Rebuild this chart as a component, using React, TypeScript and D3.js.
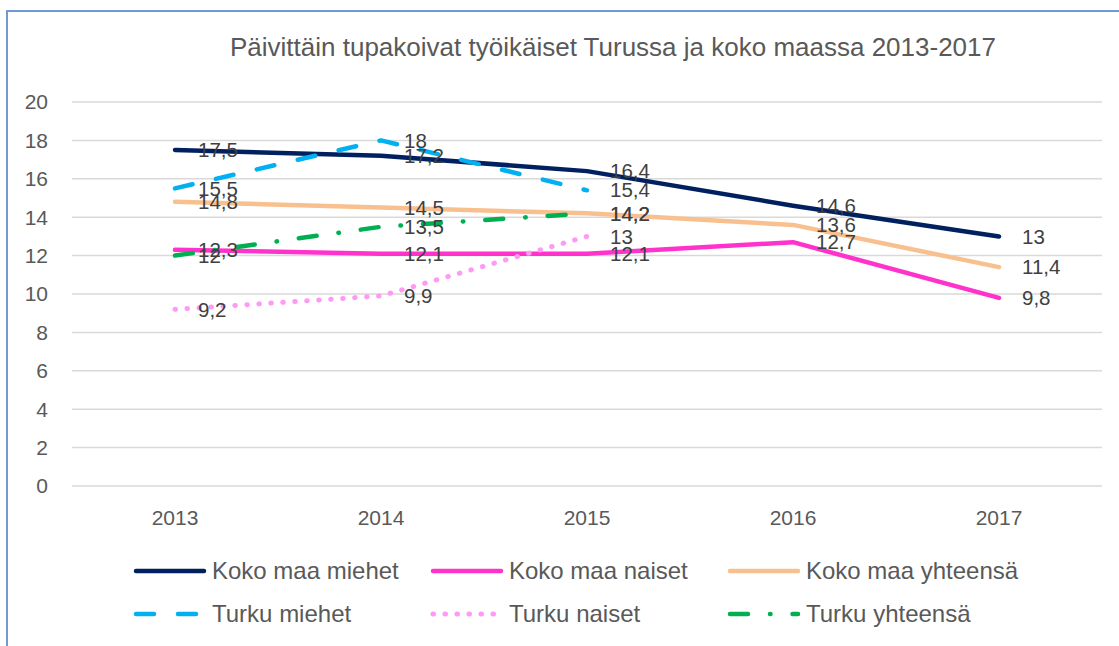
import React, { useEffect } from "react";
import * as d3 from "d3";

const years = ["2013", "2014", "2015", "2016", "2017"];
const yTicks = [0, 2, 4, 6, 8, 10, 12, 14, 16, 18, 20];

const kokoMaaMiehet = [17.5, 17.2, 16.4, 14.6, 13];
const kokoMaaNaiset = [12.3, 12.1, 12.1, 12.7, 9.8];
const kokoMaaYhteensa = [14.8, 14.5, 14.2, 13.6, 11.4];
const turkuMiehet = [15.5, 18, 15.4];
const turkuNaiset = [9.2, 9.9, 13];
const turkuYhteensa = [12, 13.5, 14.2];

const seriesNames = [
  "Koko maa miehet",
  "Koko maa naiset",
  "Koko maa yhteensä",
  "Turku miehet",
  "Turku naiset",
  "Turku yhteensä",
];

const title = "Päivittäin tupakoivat työikäiset Turussa ja koko maassa 2013-2017";

type Series = { name: string; values: number[]; color: string; dash?: string; width: number };

const series: Series[] = [
  { name: seriesNames[0], values: kokoMaaMiehet, color: "#002060", width: 4.5 },
  { name: seriesNames[1], values: kokoMaaNaiset, color: "#FF33CC", width: 4.5 },
  { name: seriesNames[2], values: kokoMaaYhteensa, color: "#F9C08F", width: 4.5 },
  { name: seriesNames[3], values: turkuMiehet, color: "#00B0F0", dash: "18,24", width: 4.5 },
  { name: seriesNames[4], values: turkuNaiset, color: "#FF99F5", dash: "0.5,11.5", width: 5 },
  { name: seriesNames[5], values: turkuYhteensa, color: "#00B050", dash: "18,22,0.5,22", width: 4.5 },
];

const FONT = "'Liberation Sans', Arial, sans-serif";

export default function App() {
  useEffect(() => {
    document.body.style.margin = "0";
  }, []);

  const W = 1119;
  const H = 646;
  const x = d3.scaleBand<string>().domain(years).range([72, 1102]);
  const y = d3.scaleLinear().domain([0, 20]).range([486, 102]);
  const cx = (i: number) => (x(years[i]) as number) + x.bandwidth() / 2;

  const line = d3
    .line<number>()
    .x((_, i) => cx(i))
    .y((d) => y(d));

  const legendCols = [134, 431, 728];
  const legendRows = [571, 614];

  return (
    <svg width={W} height={H} style={{ display: "block", background: "#fff" }} fontFamily={FONT}>
      <rect x={7} y={11} width={W + 20} height={H + 20} fill="#fff" stroke="#7199D4" strokeWidth={2} />
      <text x={613} y={47} dy="0.35em" textAnchor="middle" fontSize={26} fill="#595959">
        {title}
      </text>
      {yTicks.map((t) => (
        <g key={t}>
          <line x1={72} x2={1102} y1={y(t)} y2={y(t)} stroke="#D9D9D9" strokeWidth={1.5} />
          <text x={48} y={y(t)} dy="0.35em" textAnchor="end" fontSize={21} fill="#595959">
            {t}
          </text>
        </g>
      ))}
      {years.map((yr, i) => (
        <text key={yr} x={cx(i)} y={518} dy="0.35em" textAnchor="middle" fontSize={21} fill="#595959">
          {yr}
        </text>
      ))}
      {series.map((s) => (
        <path
          key={s.name}
          d={line(s.values) || ""}
          fill="none"
          stroke={s.color}
          strokeWidth={s.width}
          strokeDasharray={s.dash}
          strokeLinecap="round"
          strokeLinejoin="round"
        />
      ))}
      {series.map((s) =>
        s.values.map((v, i) => (
          <text
            key={s.name + i}
            x={cx(i) + 23}
            y={y(v)}
            dy="0.35em"
            fontSize={20.5}
            fill="#404040"
          >
            {String(v).replace(".", ",")}
          </text>
        ))
      )}
      {series.map((s, k) => {
        const lx = legendCols[k % 3];
        const ly = legendRows[Math.floor(k / 3)];
        return (
          <g key={"leg" + s.name}>
            <line
              x1={lx + 2}
              x2={lx + 70}
              y1={ly}
              y2={ly}
              stroke={s.color}
              strokeWidth={s.width}
              strokeDasharray={s.dash}
              strokeLinecap="round"
            />
            <text x={lx + 78} y={ly} dy="0.35em" fontSize={24} fill="#595959">
              {s.name}
            </text>
          </g>
        );
      })}
    </svg>
  );
}
